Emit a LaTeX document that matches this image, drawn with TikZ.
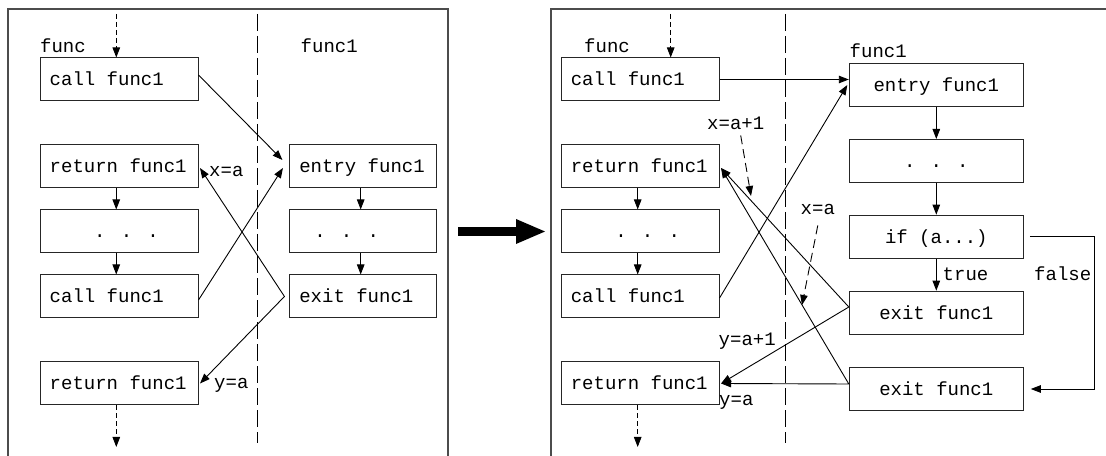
\documentclass[tikz,border=0pt]{standalone}
\usepackage{fontspec}
\newfontfamily\cour{Liberation Mono}
\newcommand\monosp{\spaceskip=0pt\xspaceskip=0pt\relax}
\usetikzlibrary{arrows.meta}
\begin{document}
\begin{tikzpicture}[x=1bp, y=-1bp,
  every node/.style={font=\cour\fontsize{19bp}{22bp}\selectfont},
  box/.style={draw=black!85, line width=1bp, minimum height=43bp, text height=15bp, text depth=2bp, inner ysep=0pt},
  colA/.style={box, inner xsep=9.25bp, text width=139bp, align=left},
  colB/.style={box, inner xsep=9.35bp, text width=128bp, align=left},
  colC/.style={box, inner xsep=0pt, minimum width=174bp, align=center},
  lbl/.style={inner sep=0pt, anchor=base west},
  conn/.style={line width=0.9bp, -{Triangle[length=10bp,width=7.5bp]}},
  conntwo/.style={line width=0.9bp, {Triangle[length=10bp,width=7.5bp]}-{Triangle[length=10bp,width=7.5bp]}},
  sdash/.style={conn, dash pattern=on 5bp off 3bp},
  ldash/.style={conn, dash pattern=on 9bp off 5bp},
  divider/.style={line width=1bp, dash pattern=on 17bp off 5bp},
  frame/.style={draw=black!70, line width=1.3bp},
]
\useasboundingbox (0,0) rectangle (1106,456);

% frames
\draw[frame] (8,456) -- (8,9) -- (448,9) -- (448,456);
\draw[frame] (551,456) -- (551,9) -- (1106,9);

% dividers
\draw[divider] (257.5,14) -- (257.5,443);
\draw[divider] (785,14) -- (785,443);

% big arrow
\fill (458,227) rectangle (517,236);
\fill (516,219) -- (545,231.5) -- (516,244) -- cycle;

% ---------- left panel ----------
\node[colA] (Lc1) at (119.25,79.5) {\monosp call func1};
\node[colA] (Lr1) at (119.25,166.5) {\monosp return func1};
\node[colA] (Ld1) at (119.25,231.5) {\monosp\hspace*{44.5bp}. . .};
\node[colA] (Lc2) at (119.25,296.5) {\monosp call func1};
\node[colA] (Lr2) at (119.25,383.5) {\monosp return func1};
\node[colB] (Le1) at (363.3,166.5) {\monosp entry func1};
\node[colB] (Ld2) at (363.3,231.5) {\monosp\hspace*{15bp}. . .};
\node[colB] (Lx1) at (363.3,296.5) {\monosp exit func1};

\node[lbl] (Lfunc) at (40,53) {func};
\node[lbl] (Lfunc1) at (300.5,53) {func1};
\node[lbl] (Lxa) at (209,176.5) {x=a};
\node[lbl] (Lya) at (214,389) {y=a};

\coordinate (Ltop) at (116.3,14);
\coordinate (Lbot) at (116.3,447);
\coordinate (Lapex) at ([xshift=-5bp]Lx1.west);

\draw[sdash] (Ltop) -- (Ltop |- Lc1.north);
\draw[sdash] (Lr2.south -| Lbot) -- (Lbot);
\draw[conn] ([xshift=-3bp]Lr1.south) -- ([xshift=-3bp]Ld1.north);
\draw[conn] ([xshift=-3bp]Ld1.south) -- ([xshift=-3bp]Lc2.north);
\draw[conn] ([xshift=-2.6bp]Le1.south) -- ([xshift=-2.6bp]Ld2.north);
\draw[conn] ([xshift=-2.6bp]Ld2.south) -- ([xshift=-2.6bp]Lx1.north);
\draw[conn] ([yshift=4.5bp]Lc1.east) -- ([xshift=-7bp,yshift=6.5bp]Le1.west);
\draw[conn] ([yshift=-3.5bp]Lc2.east) -- ([xshift=-6.5bp,yshift=-1.5bp]Le1.west);
\draw[conntwo] ([xshift=1.5bp,yshift=-1.5bp]Lr1.east) -- (Lapex) -- ([xshift=1.5bp]Lr2.east);

% ---------- right panel ----------
\node[colA] (Rc1) at (640.3,79.5) {\monosp call func1};
\node[colA] (Rr1) at (640.3,166.5) {\monosp return func1};
\node[colA] (Rd1) at (640.3,231.5) {\monosp\hspace*{44.5bp}. . .};
\node[colA] (Rc2) at (640.3,296.5) {\monosp call func1};
\node[colA] (Rr2) at (640.3,383.5) {\monosp return func1};
\node[colC] (Re1) at (936.3,85) {\monosp entry func1};
\node[colC] (Rd2) at (936.3,161) {\monosp . . .};
\node[colC] (Rif) at (936.3,236.7) {\monosp if (a...)};
\node[colC] (Rx1) at (936.3,312.7) {\monosp exit func1};
\node[colC] (Rx2) at (936.3,389) {\monosp exit func1};

\node[lbl] (Rfunc) at (584,53) {func};
\node[lbl] (Rfunc1) at (849.5,57.5) {func1};
\node[lbl] (Rxa1) at (707,129.5) {x=a+1};
\node[lbl] (Rxa) at (800.5,215) {x=a};
\node[lbl] (Rya1) at (718.5,346) {y=a+1};
\node[lbl] (Rya) at (719,405.5) {y=a};
\node[lbl] (Rtrue) at (942.5,280.5) {true};
\node[lbl] (Rfalse) at (1034,280.5) {false};

\coordinate (Rtop) at (670.7,14);
\coordinate (Rbot) at (637.7,447);
\coordinate (RapexA) at ([yshift=5.7bp]Rx1.west);
\coordinate (RapexB) at ([yshift=5bp]Rx2.west);
\coordinate (Rr1e) at ([xshift=1.5bp,yshift=-1.5bp]Rr1.east);
\coordinate (Rr2e) at ([xshift=1.5bp]Rr2.east);
\coordinate (t1) at (751,196);
\coordinate (t2) at (802,305);

\draw[sdash] (Rtop) -- (Rtop |- Rc1.north);
\draw[sdash] (Rr2.south -| Rbot) -- (Rbot);
\draw[conn] ([xshift=-2.6bp]Rr1.south) -- ([xshift=-2.6bp]Rd1.north);
\draw[conn] ([xshift=-2.6bp]Rd1.south) -- ([xshift=-2.6bp]Rc2.north);
\draw[conn] (Re1.south) -- (Rd2.north);
\draw[conn] (Rd2.south) -- (Rif.north);
\draw[conn] (Rif.south) -- (Rx1.north);
\draw[conn] ([xshift=6bp]Rif.east) -- ++(65,0) |- ([xshift=7bp]Rx2.east);

\draw[conn] (Rc1.east) -- (Rc1.east -| Re1.west);
\draw[conn] ([yshift=-1.5bp]Rc2.east) -- ([xshift=-1.5bp]Re1.west);
\draw[conntwo] (Rr1e) -- (RapexA) -- (Rr2e);
\draw[conntwo] (Rr1e) -- (RapexB) -- (Rr2e);

\draw[ldash] ([xshift=5bp,yshift=-5.5bp]Rxa1.south) -- (t1);
\draw[ldash] ([yshift=-10bp]Rxa.south) -- (t2);
\end{tikzpicture}
\end{document}
